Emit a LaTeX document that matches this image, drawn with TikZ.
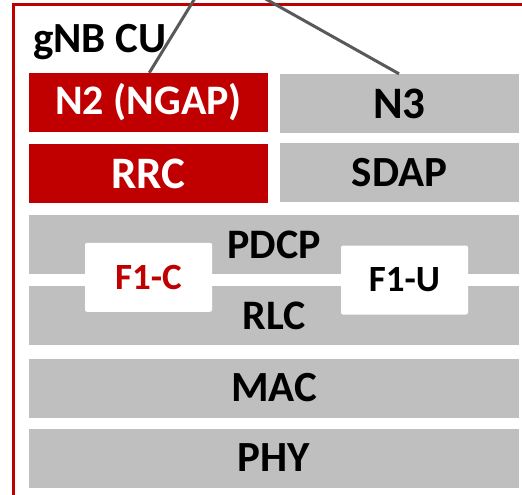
\documentclass[tikz,border=0pt]{standalone}
\usepackage{fontspec}
\setmainfont{Carlito}
\definecolor{cured}{HTML}{C00000}
\definecolor{layergray}{HTML}{BFBFBF}
\definecolor{linkgray}{HTML}{595959}
\newcommand{\lblsize}[1]{\fontsize{#1}{#1}\selectfont\bfseries}
\tikzset{
  layer/.style={fill=layergray, draw=none, minimum height=59pt, inner sep=0pt,
    font=\lblsize{42}, text=black},
  ctrl/.style={layer, fill=cured, text=white},
  iface/.style={fill=white, rounded corners=2pt, minimum width=127pt, minimum height=69pt,
    inner sep=0pt, font=\lblsize{37}},
  link/.style={draw=linkgray, line width=3pt}
}
\begin{document}
\begin{tikzpicture}[x=1pt, y=-1pt]
  \useasboundingbox (0,0) rectangle (522,495);
  \clip (0,0) rectangle (522,495);
  % CU frame
  \draw[cured, line width=2.5pt] (13.7,4.7) rectangle (560,540);
  \node[anchor=base west, font=\lblsize{43}, inner sep=0pt] (title) at (33,52.5) {gNB CU};
  % protocol rows
  \node[ctrl, minimum width=239pt] (n2) at (148.5,102.5) {N2 (NGAP)};
  \node[layer, minimum width=239pt, font=\lblsize{45}] (n3) at (399.5,103.5) {N3};
  \node[ctrl, minimum width=239pt, font=\lblsize{45}] (rrc) at (148.5,173.5) {RRC};
  \node[layer, minimum width=239pt, font=\lblsize{43}] (sdap) at (399.5,172.5) {SDAP};
  \node[layer, minimum width=490pt] (pdcp) at (274,244.5) {PDCP};
  \node[layer, minimum width=490pt] (rlc) at (274,315.5) {RLC};
  \node[layer, minimum width=490pt, font=\lblsize{43}] (mac) at (274,388) {MAC};
  \node[layer, minimum width=490pt, font=\lblsize{43}] (phy) at (274,458) {PHY};
  % F1 split points
  \node[iface, text=cured] (f1c) at (148.5,277.3) {F1-C};
  \node[iface, text=black] (f1u) at (404.5,280) {F1-U};
  % links to the core
  \coordinate (amf) at (198.5,-7.5);
  \coordinate (upf) at (255,-7);
  \draw[link] (n2.north -| 149.3,0) -- (amf);
  \draw[link] (n3.north -| 399,0) -- (upf);
\end{tikzpicture}
\end{document}
